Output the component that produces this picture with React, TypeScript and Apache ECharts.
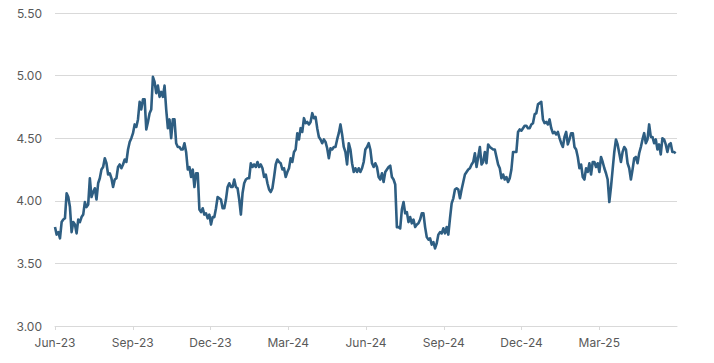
import React, { useEffect, useRef } from "react";
import * as echarts from "echarts";

// Quarter tick labels (months from Jun-23)
const tickLabels = ["Jun-23", "Sep-23", "Dec-23", "Mar-24", "Jun-24", "Sep-24", "Dec-24", "Mar-25"];
const tickMonths = [0, 3, 6, 9, 12, 15, 18, 21];
const spanMonths = 23.95;

// Series values (roughly daily), split by period
const valuesJunToDec23 = [
  3.79, 3.73, 3.75, 3.70, 3.83, 3.85, 3.86, 4.06, 4.03, 3.95, 3.75, 3.83, 3.81, 3.74, 3.85, 3.83, 3.87, 3.89, 3.99, 3.95,
  3.97, 4.18, 4.03, 4.07, 4.10, 4.01, 4.14, 4.18, 4.25, 4.27, 4.34, 4.30, 4.21, 4.22, 4.18, 4.11, 4.17, 4.18, 4.27, 4.29,
  4.26, 4.29, 4.33, 4.31, 4.41, 4.47, 4.50, 4.54, 4.61, 4.59, 4.65, 4.79, 4.73, 4.81, 4.81, 4.57, 4.63, 4.70, 4.73, 4.99,
  4.95, 4.86, 4.92, 4.83, 4.87, 4.83, 4.92, 4.73, 4.58, 4.65, 4.50, 4.65, 4.65, 4.46, 4.43, 4.43, 4.41, 4.41, 4.46, 4.39,
  4.25, 4.27, 4.19, 4.25, 4.11, 4.22, 4.22,
];
const valuesDec23ToMar24 = [
  3.93, 3.91, 3.94, 3.89, 3.90, 3.86, 3.89, 3.81, 3.87, 3.87, 3.94, 4.03, 4.02, 4.01, 3.94, 3.94, 4.01, 4.11, 4.14, 4.11,
  4.11, 4.17, 4.11, 4.10, 4.01, 3.89, 4.06, 4.14, 4.17, 4.18, 4.18, 4.30, 4.27, 4.29, 4.27, 4.31, 4.27, 4.29, 4.26, 4.19,
  4.21, 4.14, 4.09, 4.07, 4.10, 4.19, 4.29, 4.33, 4.31,
];
const valuesMar24ToSep24 = [
  4.30, 4.25, 4.26, 4.19, 4.23, 4.26, 4.34, 4.31, 4.39, 4.41, 4.54, 4.49, 4.58, 4.55, 4.66, 4.62, 4.63, 4.61, 4.63, 4.70,
  4.66, 4.67, 4.58, 4.51, 4.49, 4.46, 4.49, 4.47, 4.42, 4.34, 4.42, 4.41, 4.43, 4.43, 4.49, 4.54, 4.61, 4.53, 4.43, 4.39,
  4.29, 4.46, 4.41, 4.30, 4.23, 4.26, 4.23, 4.26, 4.23, 4.26, 4.31, 4.41, 4.43, 4.46, 4.41, 4.30, 4.27, 4.30, 4.27, 4.19,
  4.17, 4.22, 4.15, 4.23, 4.25, 4.27, 4.28, 4.19, 4.17, 4.13, 3.79, 3.79, 3.78, 3.93, 3.99, 3.90, 3.91, 3.83, 3.87, 3.82,
  3.85, 3.79, 3.81, 3.82, 3.85, 3.90, 3.90, 3.79, 3.71, 3.69, 3.70, 3.65, 3.67, 3.62, 3.66, 3.73, 3.75, 3.74, 3.78, 3.74,
  3.79, 3.73,
];
const valuesSep24ToDec24 = [
  3.86, 3.98, 4.02, 4.09, 4.10, 4.09, 4.02, 4.09, 4.15, 4.21, 4.23, 4.25, 4.26, 4.29, 4.31, 4.38, 4.27, 4.35, 4.43, 4.29,
  4.31, 4.39, 4.30, 4.45, 4.43, 4.42, 4.41, 4.41, 4.35, 4.29, 4.26, 4.18, 4.21, 4.17, 4.19, 4.15, 4.18, 4.25, 4.39, 4.39,
  4.39, 4.55, 4.57, 4.56, 4.58, 4.60, 4.60, 4.58, 4.58, 4.61, 4.62, 4.69, 4.70, 4.77, 4.78, 4.79,
];
const valuesDec24ToMay25 = [
  4.65, 4.62, 4.63, 4.61, 4.65, 4.58, 4.54, 4.55, 4.53, 4.55, 4.50, 4.46, 4.43, 4.51, 4.55, 4.45, 4.49, 4.54, 4.54, 4.43,
  4.41, 4.35, 4.26, 4.29, 4.19, 4.17, 4.26, 4.23, 4.30, 4.21, 4.31, 4.31, 4.27, 4.30, 4.23, 4.35, 4.31, 4.26, 4.22, 4.17,
  3.99, 4.11, 4.25, 4.39, 4.49, 4.45, 4.38, 4.31, 4.39, 4.43, 4.41, 4.30, 4.26, 4.17, 4.25, 4.34, 4.35, 4.30, 4.38, 4.43,
  4.49, 4.54, 4.46, 4.49, 4.61, 4.51, 4.51, 4.46, 4.49, 4.41, 4.45, 4.37, 4.50, 4.49, 4.45, 4.39, 4.45, 4.46, 4.39, 4.39,
  4.38,
];

const allValues = [
  ...valuesJunToDec23,
  ...valuesDec23ToMar24,
  ...valuesMar24ToSep24,
  ...valuesSep24ToDec24,
  ...valuesDec24ToMay25,
];

export default function App() {
  const ref = useRef<HTMLDivElement>(null);
  useEffect(() => {
    if (!ref.current) return;
    const chart = echarts.init(ref.current, null, { renderer: "svg" });
    const n = allValues.length;
    const data = allValues.map((v, i) => [(i * spanMonths) / (n - 1), v]);
    const labelColor = "#595959";
    const gridColor = "#d9d9d9";
    chart.setOption({
      animation: false,
      backgroundColor: "#ffffff",
      grid: { left: 55, right: 37, top: 13, bottom: 37, containLabel: false },
      xAxis: {
        type: "value",
        min: 0,
        max: 24,
        interval: 3,
        axisLine: { show: true, lineStyle: { color: gridColor, width: 1 } },
        axisTick: {
          show: true,
          length: 4,
          lineStyle: { color: gridColor },
          customValues: tickMonths,
        },
        axisLabel: {
          color: labelColor,
          fontFamily: "Inter",
          fontSize: 12,
          margin: 10,
          customValues: tickMonths,
          formatter: (val: number) => {
            const idx = tickMonths.indexOf(Math.round(val));
            return idx >= 0 ? tickLabels[idx] : "";
          },
        },
        splitLine: { show: false },
      },
      yAxis: {
        type: "value",
        min: 3,
        max: 5.5,
        interval: 0.5,
        axisLine: { show: false },
        axisTick: { show: false },
        axisLabel: {
          color: labelColor,
          fontFamily: "Inter",
          fontSize: 12,
          margin: 13,
          formatter: (v: number) => v.toFixed(2),
        },
        splitLine: { show: true, lineStyle: { color: gridColor, width: 1 } },
      },
      series: [
        {
          type: "line",
          data,
          showSymbol: false,
          symbol: "none",
          lineStyle: { color: "#2E5E82", width: 2.6, join: "round" },
        },
      ],
    });
    return () => chart.dispose();
  }, []);
  return (
    <div
      ref={ref}
      style={{ position: "fixed", left: 0, top: 0, width: 714, height: 363, background: "#fff" }}
    />
  );
}
